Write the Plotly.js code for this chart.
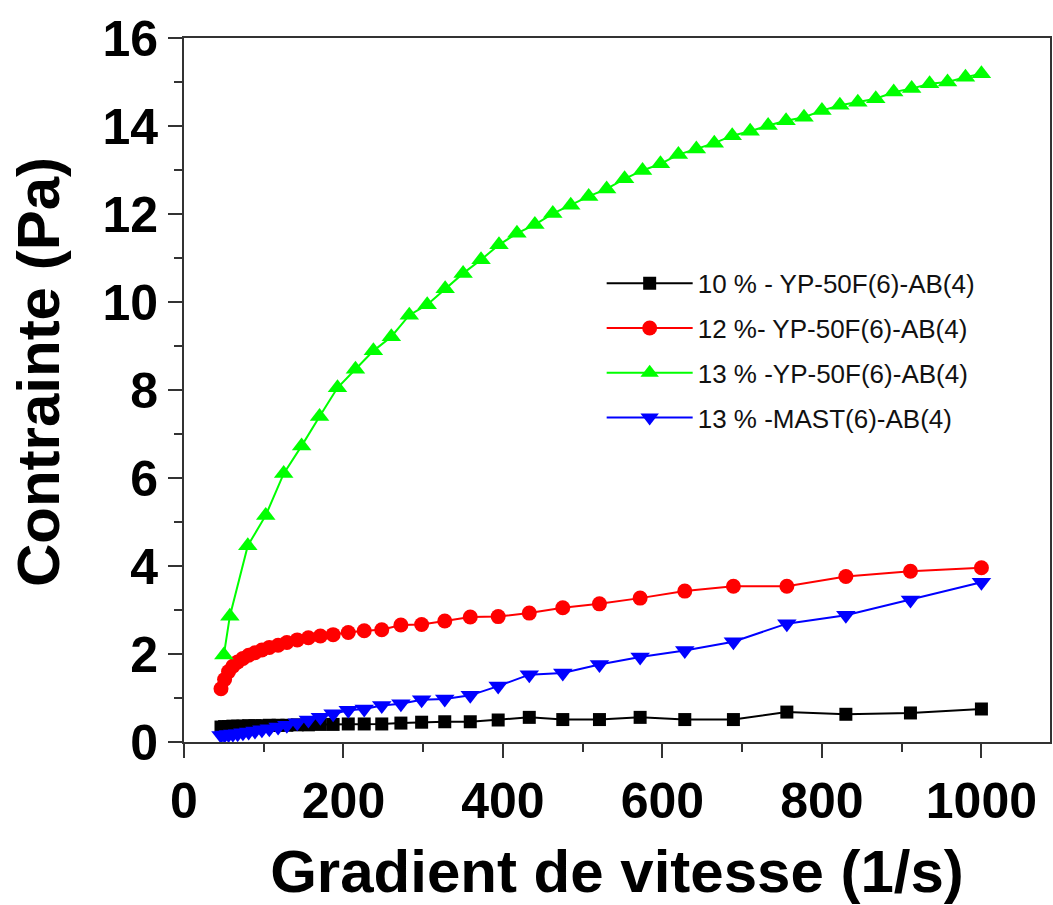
<!DOCTYPE html>
<html>
<head>
<meta charset="utf-8">
<script src="https://cdn.plot.ly/plotly-3.0.1.min.js"></script>
<style>
  html, body { margin: 0; padding: 0; background: #ffffff; }
  #chart { width: 1053px; height: 905px; }
</style>
</head>
<body>
<div id="chart"></div>
<script>
// ---- data ----
// shear-rate grid (log spaced) used by the 10 %, 12 % and MAST series
var shearLog = [46.4, 50.9, 55.9, 61.3, 67.3, 73.9, 81.1, 89.0, 97.7, 107, 118, 129, 142, 156, 171, 187, 206, 226, 248, 272, 298, 327, 359, 394, 433, 475, 521, 572, 628, 689, 756, 830, 911, 1000];
// shear-rate grid (linear spaced) of the 13 % YP-50F series
var shearLin = [50, 57.5, 80, 102.5, 125, 147.5, 170, 192.5, 215, 237.5, 260, 282.5, 305, 327.5, 350, 372.5, 395, 417.5, 440, 462.5, 485, 507.5, 530, 552.5, 575, 597.5, 620, 642.5, 665, 687.5, 710, 732.5, 755, 777.5, 800, 822.5, 845, 867.5, 890, 912.5, 935, 957.5, 980, 1000];

var stress10YP = [0.34, 0.35, 0.35, 0.36, 0.36, 0.36, 0.37, 0.37, 0.37, 0.38, 0.38, 0.38, 0.39, 0.39, 0.40, 0.40, 0.41, 0.41, 0.41, 0.43, 0.45, 0.46, 0.46, 0.50, 0.56, 0.51, 0.51, 0.56, 0.51, 0.51, 0.68, 0.63, 0.66, 0.75];
var stress12YP = [1.21, 1.42, 1.60, 1.72, 1.82, 1.90, 1.97, 2.03, 2.09, 2.15, 2.20, 2.26, 2.32, 2.37, 2.41, 2.44, 2.49, 2.53, 2.55, 2.66, 2.67, 2.75, 2.84, 2.85, 2.93, 3.05, 3.14, 3.27, 3.43, 3.54, 3.54, 3.76, 3.88, 3.96];
var stress13YP = [1.98, 2.86, 4.46, 5.15, 6.10, 6.73, 7.40, 8.05, 8.47, 8.89, 9.21, 9.70, 9.94, 10.30, 10.65, 10.96, 11.30, 11.56, 11.76, 12.01, 12.20, 12.40, 12.57, 12.80, 12.99, 13.14, 13.35, 13.48, 13.61, 13.78, 13.88, 14.01, 14.12, 14.20, 14.35, 14.47, 14.54, 14.62, 14.77, 14.85, 14.96, 15.00, 15.11, 15.19];
var stress13MAST = [0.15, 0.16, 0.17, 0.18, 0.19, 0.21, 0.23, 0.25, 0.28, 0.30, 0.34, 0.38, 0.44, 0.50, 0.56, 0.64, 0.72, 0.75, 0.83, 0.87, 0.96, 0.98, 1.06, 1.27, 1.53, 1.57, 1.76, 1.93, 2.08, 2.28, 2.69, 2.88, 3.23, 3.63];

var seriesNames = ["10 % - YP-50F(6)-AB(4)", "12 %- YP-50F(6)-AB(4)", "13 % -YP-50F(6)-AB(4)", "13 % -MAST(6)-AB(4)"];
var xTitle = "Gradient de vitesse (1/s)";
var yTitle = "Contrainte (Pa)";

// ---- styling ----
var fontFam = "Liberation Sans, Arial, sans-serif";
function mk(x, y, name, color, symbol, size, grp) {
  return {
    type: "scatter", mode: "lines+markers", x: x, y: y, name: name,
    legendgroup: grp,
    line: {color: color, width: 2},
    marker: {color: color, symbol: symbol, size: size, line: {width: 0}}
  };
}
var traces = [
  mk(shearLog, stress10YP, seriesNames[0], "#000000", "square", 13, "g1"),
  mk(shearLog, stress12YP, seriesNames[1], "#ff0000", "circle", 15, "g2"),
  mk(shearLin, stress13YP, seriesNames[2], "#00ff00", "triangle-up", 17, "g3"),
  mk(shearLog, stress13MAST, seriesNames[3], "#0000ff", "triangle-down", 17, "g4")
];

var axisCommon = {
  showline: true, linecolor: "#333333", linewidth: 2, mirror: true,
  ticks: "outside", ticklen: 14, tickwidth: 2, tickcolor: "#333333",
  showgrid: false, zeroline: false,
  tickfont: {family: fontFam, size: 50, weight: "bold", color: "#000000"}
};

var layout = {
  width: 1053, height: 905,
  margin: {l: 184, r: 3, t: 38, b: 163},
  paper_bgcolor: "#ffffff", plot_bgcolor: "#ffffff",
  showlegend: true,
  legend: {
    x: 0.4823, y: 0.685, xanchor: "left", yanchor: "top",
    bgcolor: "rgba(0,0,0,0)", borderwidth: 0,
    font: {family: fontFam, size: 26, color: "#111111"},
    itemwidth: 86, traceorder: "grouped", tracegroupgap: 8
  },
  xaxis: Object.assign({}, axisCommon, {
    range: [0, 1086], tick0: 0, dtick: 200,
    minor: {dtick: 100, ticks: "outside", ticklen: 8, tickwidth: 2, tickcolor: "#333333"},
    title: {text: xTitle, font: {family: fontFam, size: 60, weight: "bold", color: "#000000"}, standoff: 22}
  }),
  yaxis: Object.assign({}, axisCommon, {
    range: [0, 16], tick0: 0, dtick: 2,
    minor: {dtick: 1, ticks: "outside", ticklen: 8, tickwidth: 2, tickcolor: "#333333"}
  }),
  annotations: [{
    text: yTitle, textangle: -90, showarrow: false,
    xref: "paper", yref: "paper", x: -0.1674, y: 0.5256,
    xanchor: "center", yanchor: "middle",
    font: {family: fontFam, size: 60, weight: "bold", color: "#000000"}
  }]
};

Plotly.newPlot("chart", traces, layout, {displayModeBar: false, staticPlot: true});
</script>
</body>
</html>
